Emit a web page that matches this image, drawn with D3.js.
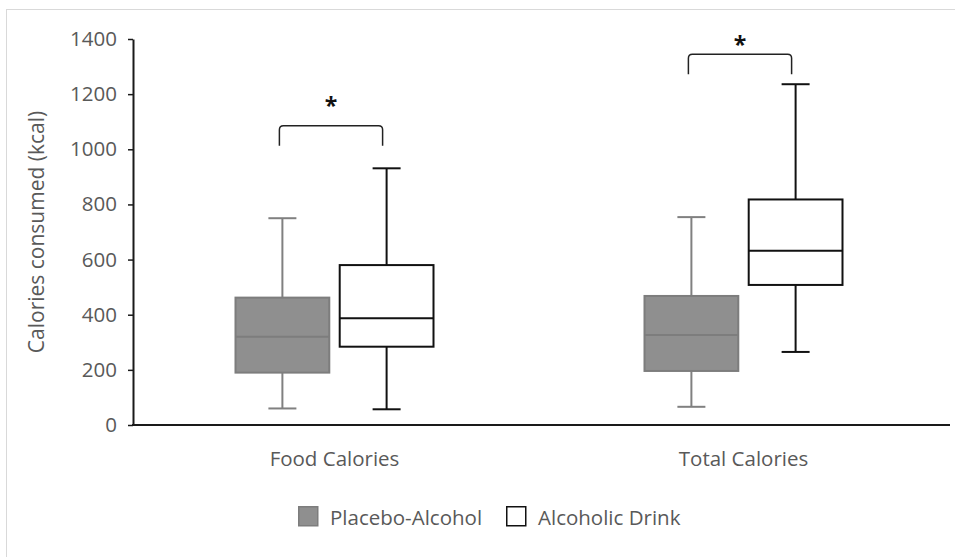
<!DOCTYPE html>
<html>
<head>
<meta charset="utf-8">
<script src="https://cdn.jsdelivr.net/npm/d3@7"></script>
<style>
  html, body { margin: 0; padding: 0; background: #fff; }
  svg { display: block; }
  text { font-family: "Open Sans", "Liberation Sans", sans-serif; fill: #595959; }
</style>
</head>
<body>
<svg id="chart" width="955" height="557"></svg>
<script>
// Categories and groups
const categories = ["Food Calories", "Total Calories"];
const seriesNames = ["Placebo-Alcohol", "Alcoholic Drink"];

// Five-number summaries per category: [min, q1, median, q3, max]
const placeboStats = [
  [60, 190, 320, 462, 750],
  [66, 196, 326, 468, 754]
];
const alcoholStats = [
  [57, 284, 387, 580, 931],
  [265, 508, 632, 818, 1236]
];

// Significance brackets (height of bar, in kcal) and star height
const bracketLevels = [1085, 1345];
const starLevels = [1180, 1400];
const starLabels = ["*", "*"];

// Y axis ticks
const yTicks = [0, 200, 400, 600, 800, 1000, 1200, 1400];
const yTitle = "Calories consumed (kcal)";

const svg = d3.select("#chart");

// outer chart frame
svg.append("rect")
  .attr("x", 6.5).attr("y", 9.5)
  .attr("width", 1000).attr("height", 600)
  .attr("fill", "none").attr("stroke", "#d9d9d9").attr("stroke-width", 1);

const plot = { left: 133, right: 948, top: 39, bottom: 425 };

const y = d3.scaleLinear().domain([0, 1400]).range([plot.bottom, plot.top]);
const x0 = d3.scaleBand().domain(categories).range([plot.left - 3, plot.right]).padding(0);
const bw = x0.bandwidth();
const x1 = d3.scaleBand().domain(seriesNames)
  .range([bw / 2 - 99, bw / 2 + 99]).paddingInner(0.1).paddingOuter(0);

// Y axis
const yAxis = svg.append("g")
  .attr("transform", `translate(${plot.left},0)`)
  .call(d3.axisLeft(y).tickValues(yTicks).tickFormat(d3.format("d"))
    .tickSize(5).tickPadding(11).tickSizeOuter(0));
yAxis.select(".domain").attr("stroke", "#1a1a1a").attr("stroke-width", 2);
yAxis.selectAll(".tick line").attr("stroke", "#1a1a1a").attr("stroke-width", 1.5);
yAxis.selectAll(".tick text")
  .style("font-family", '"Open Sans", sans-serif')
  .attr("fill", "#595959").attr("font-size", 20.5);

// X axis baseline with category labels
const xAxis = svg.append("g")
  .attr("transform", `translate(0,${plot.bottom})`)
  .call(d3.axisBottom(x0).tickSize(0).tickPadding(26).tickSizeOuter(0));
xAxis.select(".domain").attr("stroke", "#1a1a1a").attr("stroke-width", 2)
  .attr("d", `M${plot.left - 1},0H${plot.right + 2}`);
xAxis.selectAll(".tick text")
  .style("font-family", '"Open Sans", sans-serif')
  .attr("fill", "#595959").attr("font-size", 20.5);

// Y title
svg.append("text")
  .attr("transform", `translate(44,${(plot.top + plot.bottom) / 2}) rotate(-90)`)
  .attr("text-anchor", "middle")
  .attr("font-size", 21)
  .text(yTitle);

// Box plots
const styles = {
  "Placebo-Alcohol": { fill: "#8f8f8f", stroke: "#7d7d7d", whisker: "#808080", width: 2 },
  "Alcoholic Drink": { fill: "#ffffff", stroke: "#111111", whisker: "#111111", width: 2 }
};
const capW = 28;

const boxData = [];
categories.forEach((c, i) => {
  boxData.push({ cat: c, series: seriesNames[0], s: placeboStats[i] });
  boxData.push({ cat: c, series: seriesNames[1], s: alcoholStats[i] });
});

const boxes = svg.selectAll("g.box").data(boxData).join("g")
  .attr("class", "box")
  .attr("transform", d => `translate(${x0(d.cat) + x1(d.series)},0)`);

boxes.each(function (d) {
  const g = d3.select(this);
  const st = styles[d.series];
  const w = x1.bandwidth();
  const cx = w / 2;
  const [mn, q1, med, q3, mx] = d.s;
  // whisker stems
  g.append("line").attr("x1", cx).attr("x2", cx).attr("y1", y(mx)).attr("y2", y(q3))
    .attr("stroke", st.whisker).attr("stroke-width", st.width);
  g.append("line").attr("x1", cx).attr("x2", cx).attr("y1", y(q1)).attr("y2", y(mn))
    .attr("stroke", st.whisker).attr("stroke-width", st.width);
  // caps
  [mn, mx].forEach(v => {
    g.append("line").attr("x1", cx - capW / 2).attr("x2", cx + capW / 2)
      .attr("y1", y(v)).attr("y2", y(v))
      .attr("stroke", st.whisker).attr("stroke-width", st.width);
  });
  // box
  g.append("rect").attr("x", 0).attr("width", w)
    .attr("y", y(q3)).attr("height", y(q1) - y(q3))
    .attr("fill", st.fill).attr("stroke", st.stroke).attr("stroke-width", st.width);
  // median
  g.append("line").attr("x1", 0).attr("x2", w).attr("y1", y(med)).attr("y2", y(med))
    .attr("stroke", st.stroke).attr("stroke-width", st.width);
});

// Significance brackets
categories.forEach((c, i) => {
  const xa = x0(c) + x1(seriesNames[0]) + x1.bandwidth() / 2 - 3;
  const xb = x0(c) + x1(seriesNames[1]) + x1.bandwidth() / 2 - 4;
  const yt = y(bracketLevels[i]);
  const drop = 20, r = 4;
  const p = `M${xa},${yt + drop} V${yt + r} Q${xa},${yt} ${xa + r},${yt} H${xb - r} Q${xb},${yt} ${xb},${yt + r} V${yt + drop}`;
  svg.append("path").attr("d", p).attr("fill", "none")
    .attr("stroke", "#222").attr("stroke-width", 1.5);
  svg.append("text")
    .attr("x", (xa + xb) / 2).attr("y", y(starLevels[i]) + 14)
    .attr("text-anchor", "middle")
    .attr("font-size", 23).attr("font-weight", "bold")
    .style("fill", "#111")
    .text(starLabels[i]);
});

// Legend
const legend = svg.append("g").attr("transform", "translate(298,506)");
const legendX = [0, 208];
seriesNames.forEach((s, i) => {
  const st = styles[s];
  const g = legend.append("g").attr("transform", `translate(${legendX[i]},0)`);
  g.append("rect").attr("x", 0.75).attr("y", 0.75).attr("width", 19).attr("height", 19)
    .attr("fill", st.fill).attr("stroke", st.stroke).attr("stroke-width", 1.5);
  g.append("text").attr("x", 32).attr("y", 19).attr("font-size", 20.5).text(s);
});
</script>
</body>
</html>
